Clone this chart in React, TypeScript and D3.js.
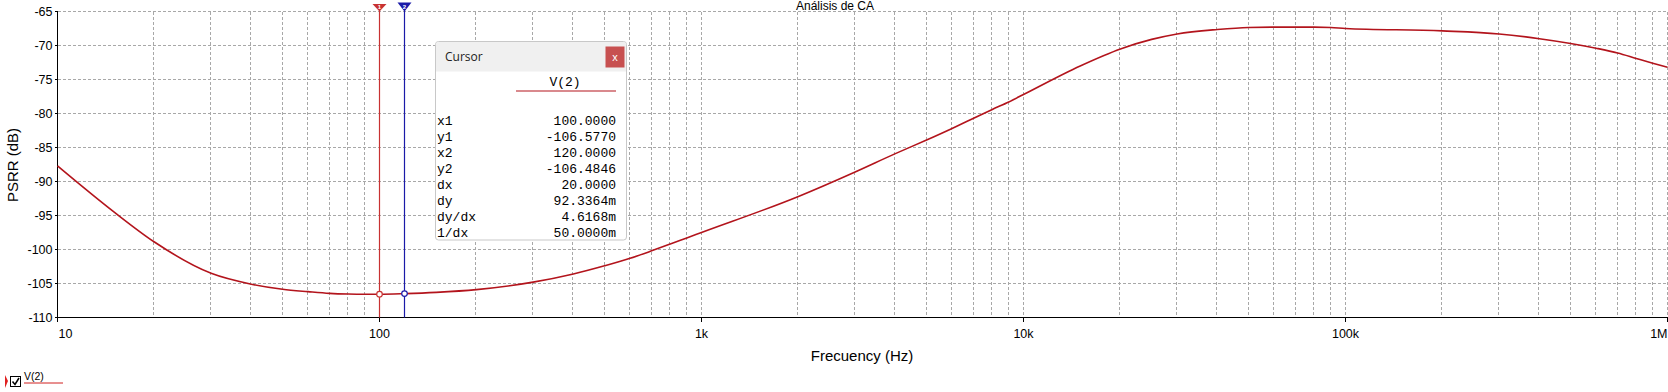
import React, { useEffect, useRef } from "react";
import * as d3 from "d3";

// frequency sweep (Hz) and PSRR of V(2) in dB
const freqs = [
  10, 15, 20, 30, 40, 50, 60, 70, 80, 90, 100, 120, 150, 200, 300, 400, 500,
  600, 700, 800, 900, 1000, 2000, 3000, 4000, 5000, 6000, 7000, 8000, 9000,
  10000, 15000, 20000, 25000, 30000, 40000, 50000, 60000, 70000, 80000, 90000,
  100000, 200000, 300000, 400000, 500000, 600000, 700000, 800000, 900000,
  1000000,
];
const psrr = [
  -87.7, -94.5, -98.9, -103.5, -105.1, -105.85, -106.2, -106.45, -106.55,
  -106.58, -106.577, -106.4846, -106.3, -105.9, -104.8, -103.6, -102.4,
  -101.3, -100.2, -99.2, -98.3, -97.5, -92.2, -88.6, -85.9, -83.9, -82.2,
  -80.7, -79.4, -78.3, -77.2, -73.0, -70.5, -69.1, -68.3, -67.65, -67.35,
  -67.3, -67.3, -67.3, -67.35, -67.5, -67.85, -68.3, -69.0, -69.7, -70.4,
  -71.1, -71.9, -72.6, -73.2,
];

const yTicks = [-65, -70, -75, -80, -85, -90, -95, -100, -105, -110];
const xDecades = [10, 100, 1000, 10000, 100000, 1000000];
const xDecadeLabels = ["10", "100", "1k", "10k", "100k", "1M"];

// cursors
const cursorX = [100, 120];
const cursorY = [-106.577, -106.4846];
const cursorColors = ["#c83232", "#1a1aa8"];

const cursorRows = ["x1", "y1", "x2", "y2", "dx", "dy", "dy/dx", "1/dx"];
const cursorVals = [
  "100.0000",
  "-106.5770",
  "120.0000",
  "-106.4846",
  "20.0000",
  "92.3364m",
  "4.6168m",
  "50.0000m",
];

const W = 1668,
  H = 392;

export default function App() {
  const ref = useRef<SVGSVGElement>(null);

  useEffect(() => {
    const svg = d3.select(ref.current);
    svg.selectAll("*").remove();

    const left = 57.5,
      right = 1667.5,
      top = 11.5,
      bottom = 317.5;

    const x = d3.scaleLog().domain([10, 1e6]).range([left, right]);
    const y = d3.scaleLinear().domain([-110, -65]).range([bottom, top]);
    const font = "'Liberation Sans', Arial, sans-serif";
    const mono = "'Liberation Mono', 'Courier New', monospace";
    const gridColor = "#a8a8a8";

    // title (sits above the plot frame)
    svg
      .append("text")
      .attr("x", 835)
      .attr("y", 10)
      .attr("text-anchor", "middle")
      .attr("font-family", font)
      .attr("font-size", 12)
      .text("Análisis de CA");

    // vertical grid (1..9 per decade)
    const minor: number[] = [];
    xDecades.forEach((d) => {
      for (let k = 1; k < 10; k++) {
        const v = d * k;
        if (v > 10 && v <= 1e6) minor.push(v);
      }
    });
    svg
      .append("g")
      .selectAll("line")
      .data(minor)
      .enter()
      .append("line")
      .attr("x1", (d) => Math.round(x(d)) - 0.5)
      .attr("x2", (d) => Math.round(x(d)) - 0.5)
      .attr("y1", top)
      .attr("y2", bottom)
      .attr("stroke", gridColor)
      .attr("stroke-dasharray", "3,2")
      .attr("shape-rendering", "crispEdges");

    // horizontal grid
    svg
      .append("g")
      .selectAll("line")
      .data(yTicks.filter((t) => t > -110))
      .enter()
      .append("line")
      .attr("x1", left)
      .attr("x2", right)
      .attr("y1", (d) => Math.round(y(d)) - 0.5)
      .attr("y2", (d) => Math.round(y(d)) - 0.5)
      .attr("stroke", gridColor)
      .attr("stroke-dasharray", "3,2")
      .attr("shape-rendering", "crispEdges");

    // axes
    svg
      .append("line")
      .attr("x1", left)
      .attr("x2", left)
      .attr("y1", top)
      .attr("y2", bottom)
      .attr("stroke", "#000")
      .attr("shape-rendering", "crispEdges");
    svg
      .append("line")
      .attr("x1", left)
      .attr("x2", right)
      .attr("y1", bottom)
      .attr("y2", bottom)
      .attr("stroke", "#000")
      .attr("shape-rendering", "crispEdges");

    // y ticks + labels
    const yg = svg.append("g");
    yTicks.forEach((t) => {
      const yy = Math.round(y(t)) - 0.5;
      yg.append("line")
        .attr("x1", left - 3)
        .attr("x2", left)
        .attr("y1", yy)
        .attr("y2", yy)
        .attr("stroke", "#000")
        .attr("shape-rendering", "crispEdges");
      yg.append("text")
        .attr("x", 52.5)
        .attr("y", yy + 4.5)
        .attr("text-anchor", "end")
        .attr("font-family", font)
        .attr("font-size", 12.5)
        .text(String(t));
    });

    // x ticks + labels
    const xg = svg.append("g");
    xDecades.forEach((d, i) => {
      const xx = Math.round(x(d)) - 0.5;
      xg.append("line")
        .attr("x1", xx)
        .attr("x2", xx)
        .attr("y1", bottom)
        .attr("y2", bottom + 4)
        .attr("stroke", "#000")
        .attr("shape-rendering", "crispEdges");
      const anchor =
        i === 0 ? "start" : i === xDecades.length - 1 ? "end" : "middle";
      xg.append("text")
        .attr("x", i === 0 ? xx + 1 : xx)
        .attr("y", 337.5)
        .attr("text-anchor", anchor)
        .attr("font-family", font)
        .attr("font-size", 12.5)
        .text(xDecadeLabels[i]);
    });

    // axis titles
    svg
      .append("text")
      .attr("x", 862)
      .attr("y", 361)
      .attr("text-anchor", "middle")
      .attr("font-family", font)
      .attr("font-size", 15)
      .text("Frecuency (Hz)");
    svg
      .append("text")
      .attr("transform", "translate(18,165) rotate(-90)")
      .attr("text-anchor", "middle")
      .attr("font-family", font)
      .attr("font-size", 15)
      .text("PSRR (dB)");

    // curve
    const pts: [number, number][] = freqs.map((f, i) => [x(f), y(psrr[i])]);
    const line = d3.line().curve(d3.curveMonotoneX);
    svg
      .append("path")
      .attr("d", line(pts) as string)
      .attr("fill", "none")
      .attr("stroke", "#b3141c")
      .attr("stroke-width", 1.6);

    // cursor lines, top flags and markers
    cursorX.forEach((cx, i) => {
      const xx = Math.round(x(cx)) - 0.5;
      const c = cursorColors[i];
      svg
        .append("line")
        .attr("x1", xx)
        .attr("x2", xx)
        .attr("y1", 5)
        .attr("y2", bottom)
        .attr("stroke", c)
        .attr("stroke-width", 1.2);
      svg
        .append("path")
        .attr(
          "d",
          `M${xx - 7},${i === 0 ? 4 : 2.5} L${xx + 7},${i === 0 ? 4 : 2.5} L${xx},11.5 Z`
        )
        .attr("fill", c);
      svg
        .append("text")
        .attr("x", xx)
        .attr("y", 9)
        .attr("text-anchor", "middle")
        .attr("font-family", font)
        .attr("font-size", 6)
        .attr("font-weight", "bold")
        .attr("fill", "#fff")
        .text(String(i + 1));
      svg
        .append("circle")
        .attr("cx", xx)
        .attr("cy", y(cursorY[i]))
        .attr("r", 2.8)
        .attr("fill", "#fff")
        .attr("stroke", c)
        .attr("stroke-width", 1.2);
    });

    // cursor window
    const bx = 435.5,
      by = 41.5,
      bw = 191,
      bh = 198.5;
    const box = svg.append("g");
    box
      .append("rect")
      .attr("x", bx)
      .attr("y", by)
      .attr("width", bw)
      .attr("height", bh)
      .attr("rx", 3)
      .attr("fill", "#fff")
      .attr("stroke", "#c8c8c8");
    box
      .append("path")
      .attr(
        "d",
        `M${bx + 0.5},${by + 30} L${bx + 0.5},${by + 3} Q${bx + 0.5},${by + 0.5} ${bx + 3},${by + 0.5} L${bx + bw - 3},${by + 0.5} Q${bx + bw - 0.5},${by + 0.5} ${bx + bw - 0.5},${by + 3} L${bx + bw - 0.5},${by + 30} Z`
      )
      .attr("fill", "#f0f0f0");
    box
      .append("text")
      .attr("x", 445)
      .attr("y", 61)
      .attr("font-family", "'Open Sans', 'Noto Sans', sans-serif")
      .attr("font-size", 12)
      .attr("fill", "#222")
      .text("Cursor");
    box
      .append("rect")
      .attr("x", 605.5)
      .attr("y", 46.5)
      .attr("width", 19)
      .attr("height", 21)
      .attr("fill", "#c75050");
    box
      .append("text")
      .attr("x", 615)
      .attr("y", 61)
      .attr("text-anchor", "middle")
      .attr("font-family", font)
      .attr("font-size", 11)
      .attr("fill", "#fff")
      .text("x");
    box
      .append("text")
      .attr("x", 565)
      .attr("y", 86)
      .attr("text-anchor", "middle")
      .attr("font-family", mono)
      .attr("font-size", 13)
      .text("V(2)");
    box
      .append("line")
      .attr("x1", 516)
      .attr("x2", 616)
      .attr("y1", 91)
      .attr("y2", 91)
      .attr("stroke", "#b3141c")
      .attr("stroke-width", 1.2);
    cursorRows.forEach((r, i) => {
      const ty = 124.5 + i * 16;
      box
        .append("text")
        .attr("x", 437)
        .attr("y", ty)
        .attr("font-family", mono)
        .attr("font-size", 13)
        .text(r);
      box
        .append("text")
        .attr("x", 616)
        .attr("y", ty)
        .attr("text-anchor", "end")
        .attr("font-family", mono)
        .attr("font-size", 13)
        .text(cursorVals[i]);
    });

    // legend
    const lg = svg.append("g");
    lg.append("path").attr("d", "M5,375 L8,381 L5,388 Z").attr("fill", "#e02020");
    lg.append("rect")
      .attr("x", 10.5)
      .attr("y", 376.5)
      .attr("width", 10)
      .attr("height", 10)
      .attr("fill", "#fff")
      .attr("stroke", "#000");
    lg.append("path")
      .attr("d", "M12.5,381.5 L15,384.5 L19,378")
      .attr("fill", "none")
      .attr("stroke", "#000")
      .attr("stroke-width", 1.5);
    lg.append("text")
      .attr("x", 24)
      .attr("y", 380)
      .attr("font-family", font)
      .attr("font-size", 10.5)
      .text("V(2)");
    lg.append("line")
      .attr("x1", 24)
      .attr("x2", 63)
      .attr("y1", 383)
      .attr("y2", 383)
      .attr("stroke", "#d02020")
      .attr("stroke-width", 1);
  }, []);

  return (
    <svg
      ref={ref}
      width={W}
      height={H}
      style={{ position: "absolute", left: 0, top: 0, background: "#fff" }}
    />
  );
}
